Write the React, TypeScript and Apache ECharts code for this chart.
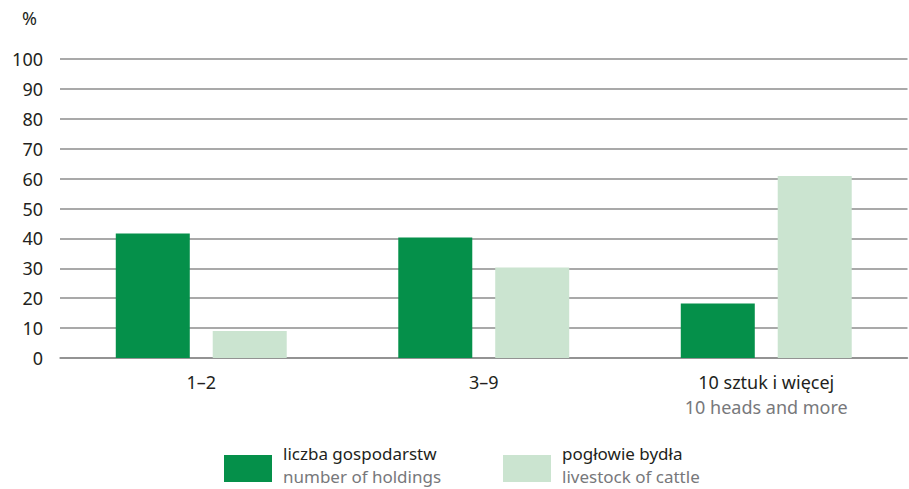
import React, { useEffect, useRef } from "react";
import * as echarts from "echarts";

const categoriesPl = ["1–2", "3–9", "10 sztuk i więcej"];
const categoriesEn = ["", "", "10 heads and more"];
const holdings = [41.6, 40.3, 18.2];
const cattle = [9.0, 30.3, 60.9];
const seriesNamesPl = ["liczba gospodarstw", "pogłowie bydła"];
const seriesNamesEn = ["number of holdings", "livestock of cattle"];
const yTicks = [0, 10, 20, 30, 40, 50, 60, 70, 80, 90, 100];

const GREEN = "#05904a";
const LIGHT = "#cbe4d0";
const FONT = "Noto Sans";

export default function App() {
  const ref = useRef<HTMLDivElement>(null);
  useEffect(() => {
    if (!ref.current) return;
    const chart = echarts.init(ref.current, null, { renderer: "svg" });
    const legendItem = (x: number, color: string, i: number) => [
      { type: "rect", left: x, top: 455, shape: { width: 48, height: 27 }, style: { fill: color } },
      {
        type: "text", left: x + 59, top: 445,
        style: { text: seriesNamesPl[i], fill: "#231f20", font: `17px '${FONT}'` },
      },
      {
        type: "text", left: x + 59, top: 468,
        style: { text: seriesNamesEn[i], fill: "#77787b", font: `17px '${FONT}'` },
      },
    ];
    chart.setOption({
      animation: false,
      textStyle: { fontFamily: FONT },
      grid: { left: 60, right: 1.5, top: 59, bottom: 131 },
      xAxis: {
        type: "category",
        data: categoriesPl.map((c, i) => c + "\n" + categoriesEn[i]),
        axisLine: { show: true, lineStyle: { color: "#8c8c8c", width: 1.5 } },
        axisTick: { show: false },
        axisLabel: {
          margin: 11,
          formatter: (v: string) => {
            const [a, b] = v.split("\n");
            return b ? `{a|${a}}\n{b|${b}}` : `{a|${a}}`;
          },
          rich: {
            a: { fontSize: 18, color: "#231f20", fontFamily: FONT, lineHeight: 25 },
            b: { fontSize: 18, color: "#77787b", fontFamily: FONT, lineHeight: 25 },
          },
        },
      },
      yAxis: {
        type: "value",
        min: yTicks[0],
        max: yTicks[yTicks.length - 1],
        interval: 10,
        axisLine: { show: false },
        axisTick: { show: false },
        axisLabel: { margin: 17, fontSize: 18, color: "#231f20", fontFamily: FONT },
        splitLine: { lineStyle: { color: "#8c8c8c", width: 1.5 } },
      },
      series: [
        {
          type: "bar", name: seriesNamesPl[0], data: holdings,
          itemStyle: { color: GREEN }, barWidth: 74, barGap: "31%",
        },
        {
          type: "bar", name: seriesNamesPl[1], data: cattle,
          itemStyle: { color: LIGHT }, barWidth: 74,
        },
      ],
      graphic: [
        { type: "text", left: 22, top: 9, style: { text: "%", fill: "#231f20", font: `18px '${FONT}'` } },
        ...legendItem(224, GREEN, 0),
        ...legendItem(503, LIGHT, 1),
      ],
    });
    return () => chart.dispose();
  }, []);
  return <div ref={ref} style={{ width: 909, height: 489, position: "absolute", left: 0, top: 0 }} />;
}
